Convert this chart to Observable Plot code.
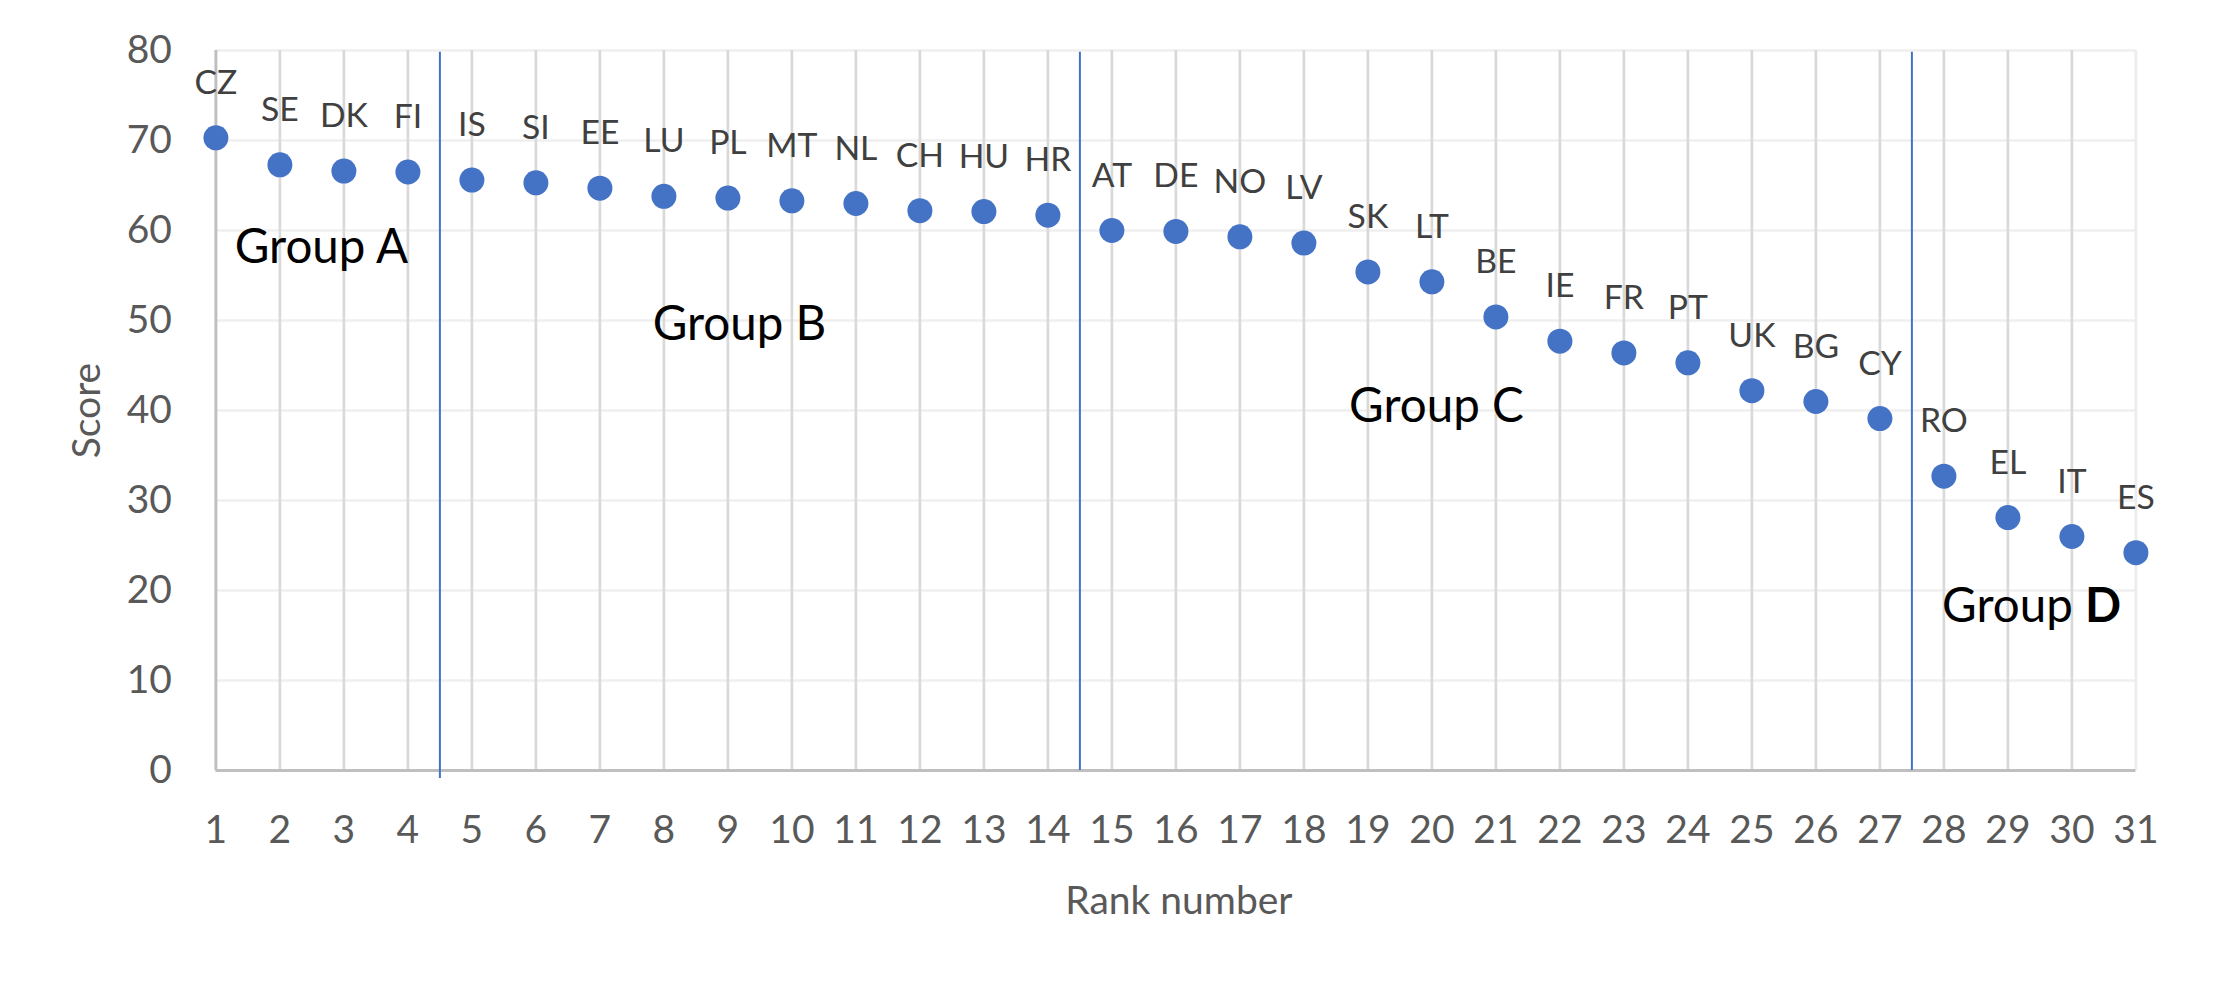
<!DOCTYPE html>
<html>
<head>
<meta charset="utf-8">
<script src="https://cdn.jsdelivr.net/npm/d3@7"></script>
<script src="https://cdn.jsdelivr.net/npm/@observablehq/plot@0.6"></script>
<style>
  html, body { margin: 0; padding: 0; background: #fff; }
  #chart svg { display: block; }
</style>
</head>
<body>
<div id="chart"></div>
<script>
const ranks = [1,2,3,4,5,6,7,8,9,10,11,12,13,14,15,16,17,18,19,20,21,22,23,24,25,26,27,28,29,30,31];
const countries = ["CZ","SE","DK","FI","IS","SI","EE","LU","PL","MT","NL","CH","HU","HR","AT","DE","NO","LV","SK","LT","BE","IE","FR","PT","UK","BG","CY","RO","EL","IT","ES"];
const scores = [70.3,67.3,66.6,66.5,65.6,65.3,64.7,63.8,63.6,63.3,63.0,62.2,62.1,61.7,60.0,59.9,59.3,58.6,55.4,54.3,50.4,47.7,46.4,45.3,42.2,41.0,39.1,32.7,28.1,26.0,24.2];

const xTicks = ranks;
const yTicks = [0,10,20,30,40,50,60,70,80];

const groupBounds = [4.5, 14.5, 27.5];
const groupBoundLow = [-0.9, 0, 0];
const groupBoundTop = 79.8;

const groupNames = ["Group A","Group B","Group C","Group D"];
const groupX = [2.65, 9.18, 20.07, 29.37];
const groupY = [56.4, 47.8, 38.7, 16.5];

const points = ranks.map((r, i) => ({rank: r, code: countries[i], score: scores[i]}));
const seps = groupBounds.map((b, i) => ({x: b, low: groupBoundLow[i], top: groupBoundTop}));
const groups = groupNames.map((g, i) => ({name: g, x: groupX[i], y: groupY[i]}));

const blue = "#4472C4";

const chart = Plot.plot({
  width: 2213,
  height: 990,
  marginLeft: 215.4,
  marginRight: 77.6,
  marginTop: 50,
  marginBottom: 220,
  x: {domain: [1, 31]},
  y: {domain: [0, 80]},
  style: {fontFamily: "Lato, 'Open Sans', sans-serif", background: "#fff"},
  marks: [
    Plot.ruleY(yTicks, {stroke: "#efefef", strokeWidth: 2.6}),
    Plot.ruleX(xTicks, {stroke: d => d === 31 ? "#ececec" : "#d9d9d9", strokeWidth: 2.7}),
    Plot.ruleX([1], {stroke: "#bfbfbf", strokeWidth: 2.7}),
    Plot.ruleY([0], {stroke: "#bfbfbf", strokeWidth: 3}),
    Plot.ruleX(seps, {x: "x", y1: "low", y2: "top", stroke: blue, strokeWidth: 2}),
    Plot.axisX({ticks: xTicks, tickSize: 0, tickPadding: 45, fontSize: 39, color: "#595959", label: null, tickFormat: d => String(d)}),
    Plot.axisY({ticks: yTicks, tickSize: 0, tickPadding: 44, fontSize: 39, color: "#595959", label: null}),
    Plot.dot(points, {x: "rank", y: "score", r: 12.5, fill: blue, stroke: null}),
    Plot.text(points, {x: "rank", y: "score", text: "code", dy: -44, lineAnchor: "bottom", textAnchor: "middle", fontSize: 33.7, fill: "#404040"}),
    Plot.text(groups, {x: "x", y: "y", text: "name", lineAnchor: "bottom", textAnchor: "middle", fontSize: 47.5, fill: "#000"}),
    Plot.text(["Score"], {frameAnchor: "left", dx: -128, rotate: -90, text: d => d, lineAnchor: "middle", textAnchor: "middle", fontSize: 39, fill: "#595959"}),
    Plot.text(["Rank number"], {frameAnchor: "bottom", dy: 143, text: d => d, lineAnchor: "bottom", textAnchor: "middle", fontSize: 39, fill: "#595959", dx: 3})
  ]
});

document.getElementById("chart").appendChild(chart);

// Bold the "D" in "Group D"
const gd = [...chart.querySelectorAll("text")].find(e => e.textContent === "Group D");
if (gd) {
  gd.textContent = "Group ";
  const ts = document.createElementNS("http://www.w3.org/2000/svg", "tspan");
  ts.setAttribute("font-weight", "bold");
  ts.textContent = "D";
  gd.appendChild(ts);
}
</script>
</body>
</html>
